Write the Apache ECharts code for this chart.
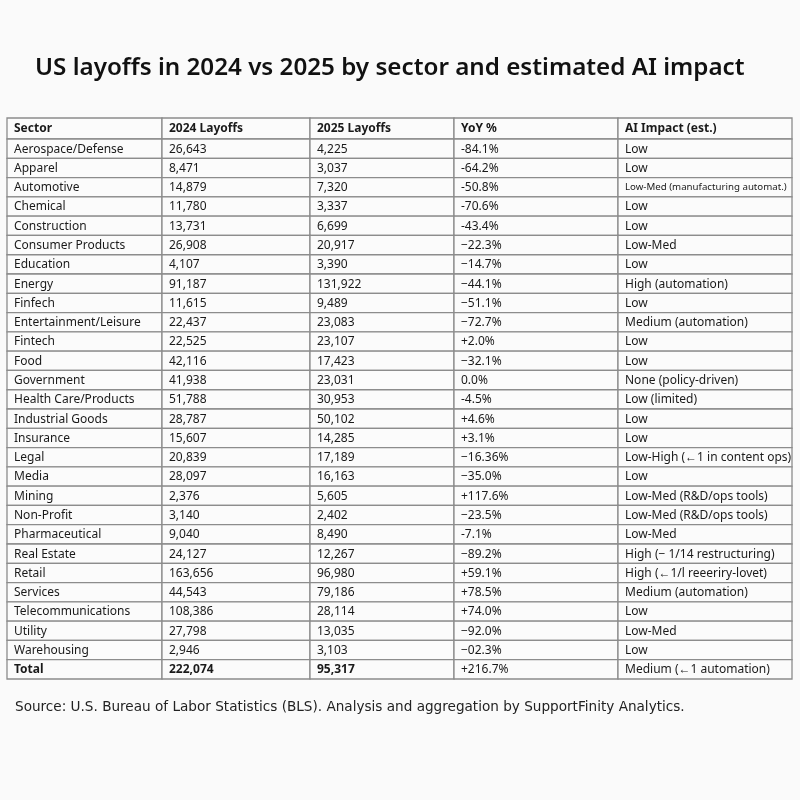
<!DOCTYPE html>
<html>
<head>
<meta charset="utf-8">
<script src="https://cdn.jsdelivr.net/npm/echarts@6/dist/echarts.min.js"></script>
<style>
  html, body { margin: 0; padding: 0; background: #fafafa; }
  #J_Chart { width: 800px; height: 800px; }
</style>
</head>
<body>
<div id="J_Chart"></div>
<script>
'use strict';

// table contents
const headers = ['Sector', '2024 Layoffs', '2025 Layoffs', 'YoY %', 'AI Impact (est.)'];

const sectors = [
  'Aerospace/Defense', 'Apparel', 'Automotive', 'Chemical', 'Construction',
  'Consumer Products', 'Education', 'Energy', 'Finfech', 'Entertainment/Leisure',
  'Fintech', 'Food', 'Government', 'Health Care/Products', 'Industrial Goods',
  'Insurance', 'Legal', 'Media', 'Mining', 'Non-Profit', 'Pharmaceutical',
  'Real Estate', 'Retail', 'Services', 'Telecommunications', 'Utility', 'Warehousing',
];

const layoffs2024 = [
  26643, 8471, 14879, 11780, 13731, 26908, 4107, 91187, 11615, 22437,
  22525, 42116, 41938, 51788, 28787, 15607, 20839, 28097, 2376, 3140,
  9040, 24127, 163656, 44543, 108386, 27798, 2946,
];

const layoffs2025 = [
  4225, 3037, 7320, 3337, 6699, 20917, 3390, 131922, 9489, 23083,
  23107, 17423, 23031, 30953, 50102, 14285, 17189, 16163, 5605, 2402,
  8490, 12267, 96980, 79186, 28114, 13035, 3103,
];

const yoyPct = [
  '-84.1%', '-64.2%', '-50.8%', '-70.6%', '-43.4%', '\u221222.3%', '\u221214.7%',
  '\u221244.1%', '\u221251.1%', '\u221272.7%', '+2.0%', '\u221232.1%', '0.0%', '-4.5%',
  '+4.6%', '+3.1%', '\u221216.36%', '\u221235.0%', '+117.6%', '\u221223.5%', '-7.1%',
  '\u221289.2%', '+59.1%', '+78.5%', '+74.0%', '\u221292.0%', '\u221202.3%',
];

const aiImpact = [
  'Low', 'Low', 'Low-Med (manufacturing automat.)', 'Low', 'Low', 'Low-Med', 'Low',
  'High (automation)', 'Low', 'Medium (automation)', 'Low', 'Low',
  'None (policy-driven)', 'Low (limited)', 'Low', 'Low', 'Low-High (\u21901 in content ops)',
  'Low', 'Low-Med (R&D/ops tools)', 'Low-Med (R&D/ops tools)', 'Low-Med',
  'High (\u2212 1/14 restructuring)', 'High (\u21901/l reeeriry-lovet)', 'Medium (automation)',
  'Low', 'Low-Med', 'Low',
];

const totalRow = ['Total', 222074, 95317, '+216.7%', 'Medium (\u21901 automation)'];

// layout
const COL_EDGES = [0, 155, 303, 447, 611, 785];
const HEADER_H = 1.09;   // header row height in row units
const PAD = 7;
const FONT = '"Noto Sans", sans-serif';
const LINE = '#8c8c8c';

const fmt = (v) => (typeof v === 'number' ? v.toLocaleString('en-US') : v);

// rows: header, data..., total
const rows = [headers];
sectors.forEach((s, i) => {
  rows.push([s, layoffs2024[i], layoffs2025[i], yoyPct[i], aiImpact[i]]);
});
rows.push(totalRow);

const lastRow = rows.length - 1;
const cells = [];
rows.forEach((r, ri) => {
  r.forEach((v, ci) => {
    const y0 = ri === 0 ? 0 : HEADER_H + ri - 1;
    const y1 = ri === 0 ? HEADER_H : HEADER_H + ri;
    cells.push({
      value: [COL_EDGES[ci], y0, COL_EDGES[ci + 1], y1],
      label: fmt(v),
      bold: ri === 0 || (ri === lastRow && ci < 3),
      small: ri === 3 && ci === 4,
    });
  });
});

const chartDom = document.getElementById('J_Chart');
const myChart = echarts.init(chartDom, null, { renderer: 'canvas' });

const option = {
  backgroundColor: '#fafafa',
  animation: false,
  title: [
    {
      text: 'US layoffs in 2024 vs 2025 by sector and estimated AI impact',
      left: 35,
      top: 56,
      padding: 0,
      textStyle: {
        fontFamily: '"Noto Sans", sans-serif',
        fontSize: 24.2,
        fontWeight: 600,
        color: '#111',
      },
    },
    {
      text: 'Source: U.S. Bureau of Labor Statistics (BLS). Analysis and aggregation by SupportFinity Analytics.',
      left: 15,
      top: 700,
      padding: 0,
      textStyle: {
        fontFamily: '"DejaVu Sans", sans-serif',
        fontSize: 13.6,
        fontWeight: 'normal',
        color: '#222',
      },
    },
  ],
  grid: { left: 7, top: 118, width: 785, height: 561 },
  xAxis: { type: 'value', min: 0, max: COL_EDGES[COL_EDGES.length - 1], show: false },
  yAxis: { type: 'value', min: 0, max: HEADER_H + rows.length - 1, inverse: true, show: false },
  series: [
    {
      type: 'custom',
      data: cells,
      renderItem: function (params, api) {
        const cell = cells[params.dataIndex];
        const p0 = api.coord([api.value(0), api.value(1)]);
        const p1 = api.coord([api.value(2), api.value(3)]);
        const x = Math.min(p0[0], p1[0]);
        const y = Math.min(p0[1], p1[1]);
        const w = Math.abs(p1[0] - p0[0]);
        const h = Math.abs(p1[1] - p0[1]);
        return {
          type: 'group',
          children: [
            {
              type: 'rect',
              shape: { x: x, y: y, width: w, height: h },
              style: { fill: '#fbfbfb', stroke: LINE, lineWidth: 1.3 },
            },
            {
              type: 'text',
              style: {
                x: x + PAD,
                y: y + h / 2 + 0.5,
                text: cell.label,
                fill: '#1a1a1a',
                font: (cell.bold ? 'bold ' : '') + (cell.small ? '9.7px ' : '12px ') + FONT,
                verticalAlign: 'middle',
                align: 'left',
              },
            },
          ],
        };
      },
    },
  ],
};

myChart.setOption(option);
</script>
</body>
</html>
